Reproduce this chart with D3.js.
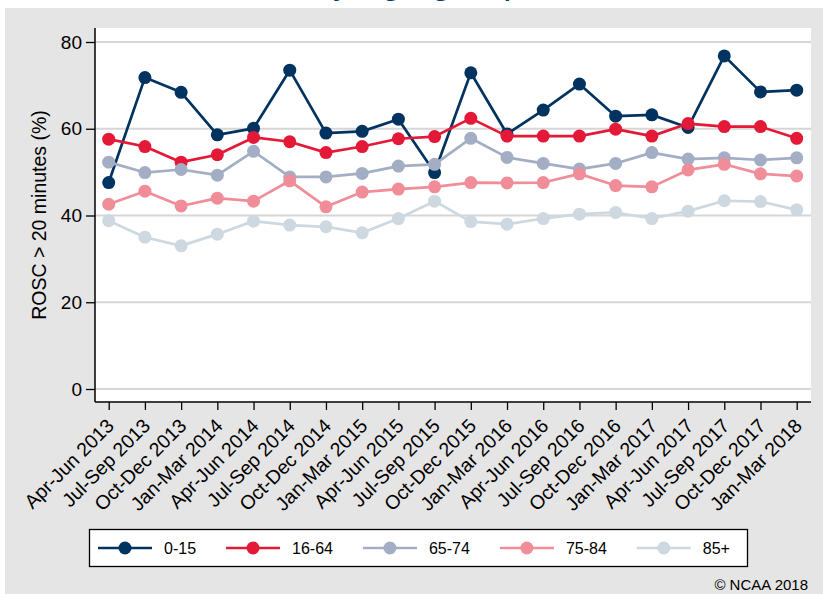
<!DOCTYPE html>
<html lang="en">
<head>
<meta charset="UTF-8">
<title>ROSC by age group</title>
<style>
body{margin:0;background:#fff;}
svg{display:block;font-family:"Liberation Sans",Arial,sans-serif;}
</style>
</head>
<body>
<script src="https://d3js.org/d3.v7.min.js"></script>
<script>
// quarters on the x axis
var categories = ["Apr-Jun 2013","Jul-Sep 2013","Oct-Dec 2013","Jan-Mar 2014","Apr-Jun 2014","Jul-Sep 2014",
	"Oct-Dec 2014","Jan-Mar 2015","Apr-Jun 2015","Jul-Sep 2015","Oct-Dec 2015","Jan-Mar 2016","Apr-Jun 2016",
	"Jul-Sep 2016","Oct-Dec 2016","Jan-Mar 2017","Apr-Jun 2017","Jul-Sep 2017","Oct-Dec 2017","Jan-Mar 2018"];
var ageGroups = ["0-15","16-64","65-74","75-84","85+"];
// ROSC > 20 minutes (%)
var age0_15  = [47.6,71.8,68.4,58.6,60.1,73.5,59.0,59.4,62.2,49.9,72.9,58.8,64.3,70.3,62.9,63.2,60.3,76.8,68.5,68.9];
var age16_64 = [57.6,55.9,52.3,54.0,58.0,57.0,54.5,55.9,57.7,58.2,62.4,58.3,58.3,58.3,59.9,58.3,61.2,60.5,60.5,57.8];
var age65_74 = [52.3,49.9,50.6,49.3,54.8,48.9,48.9,49.7,51.4,51.8,57.8,53.4,52.0,50.7,52.0,54.5,53.0,53.3,52.8,53.3];
var age75_84 = [42.6,45.6,42.2,44.0,43.3,48.0,42.0,45.4,46.1,46.6,47.6,47.5,47.6,49.6,46.9,46.6,50.5,51.8,49.6,49.1];
var age85up  = [38.8,35.0,33.0,35.7,38.7,37.8,37.4,36.0,39.3,43.3,38.6,38.0,39.3,40.3,40.7,39.3,41.0,43.4,43.2,41.3];
var yTicks = [0,20,40,60,80];
var groupColors = ["#00335f","#e31937","#a3aec4","#f08d99","#cdd8e0"];

var width = 823, height = 594;
var plot = {left: 95, right: 811, top: 28, bottom: 402};

var svg = d3.select("body").append("svg").attr("width", width).attr("height", height);

// background
svg.append("rect").attr("x",0).attr("y",0).attr("width",width).attr("height",height).attr("fill","#fff");
svg.append("rect").attr("x",5).attr("y",8).attr("width",width-5).attr("height",height-8).attr("fill","#e5e5e5");
// title, mostly above the top edge of the picture
svg.append("text").attr("x",313).attr("y",-7).attr("font-size",36).attr("fill","#003a70").text("by age group");

svg.append("rect").attr("x",plot.left).attr("y",plot.top)
	.attr("width",plot.right-plot.left).attr("height",plot.bottom-plot.top).attr("fill","#fff");

var x = d3.scalePoint().domain(categories).range([108.7, 796.7]);
var y = d3.scaleLinear().domain([0,80]).range([389, 42]);

// gridlines
svg.append("g").selectAll("line").data(yTicks).join("line")
	.attr("x1",plot.left).attr("x2",plot.right)
	.attr("y1",d=>y(d)).attr("y2",d=>y(d))
	.attr("stroke","#d6d6d6").attr("stroke-width",2);

// y axis
var yAxis = svg.append("g").attr("transform","translate("+plot.left+",0)")
	.call(d3.axisLeft(y).tickValues(yTicks).tickSize(9).tickPadding(4));
yAxis.select(".domain").attr("d","M0,"+plot.top+"V"+plot.bottom).attr("stroke","#000").attr("stroke-width",1.5);
yAxis.selectAll(".tick line").attr("stroke","#000").attr("stroke-width",1.3);
yAxis.selectAll(".tick text").attr("font-size",19).attr("font-family","Liberation Sans,Arial,sans-serif").attr("fill","#000");

svg.append("text").attr("transform","translate(46,215) rotate(-90)")
	.attr("text-anchor","middle").attr("font-size",19.5).text("ROSC > 20 minutes (%)");

// x axis
var xAxis = svg.append("g").attr("transform","translate(0,"+plot.bottom+")")
	.call(d3.axisBottom(x).tickSize(8).tickSizeOuter(0));
xAxis.select(".domain").attr("d","M"+plot.left+",0H"+plot.right).attr("stroke","#000").attr("stroke-width",1.5);
xAxis.selectAll(".tick line").attr("stroke","#000").attr("stroke-width",1.3);
xAxis.selectAll(".tick text").attr("font-size",19.5).attr("font-family","Liberation Sans,Arial,sans-serif").attr("fill","#000")
	.attr("text-anchor","end").attr("dy",null).attr("y",null)
	.attr("transform","translate(6,25) rotate(-45)");

// series
var seriesValues = [age0_15, age16_64, age65_74, age75_84, age85up];
var series = ageGroups.map(function(g,i){ return {name:g, values:seriesValues[i], color:groupColors[i]}; });
var line = d3.line().x((d,i)=>x(categories[i])).y(d=>y(d));

series.forEach(function(s){
	var g = svg.append("g");
	g.append("path").attr("d",line(s.values)).attr("fill","none")
		.attr("stroke",s.color).attr("stroke-width",2.7).attr("stroke-linejoin","round");
	g.selectAll("circle").data(s.values).join("circle")
		.attr("cx",(d,i)=>x(categories[i])).attr("cy",d=>y(d)).attr("r",6.5).attr("fill",s.color);
});

// legend
var legend = svg.append("g");
legend.append("rect").attr("x",89.5).attr("y",529.5).attr("width",658).attr("height",37)
	.attr("fill","#fff").attr("stroke","#000").attr("stroke-width",1.3);
var lx = 98;
series.forEach(function(s){
	var it = legend.append("g");
	it.append("line").attr("x1",lx).attr("x2",lx+54).attr("y1",548).attr("y2",548)
		.attr("stroke",s.color).attr("stroke-width",2.7);
	it.append("circle").attr("cx",lx+27).attr("cy",548).attr("r",6.5).attr("fill",s.color);
	var t = it.append("text").attr("x",lx+66).attr("y",548).attr("dy","0.36em")
		.attr("font-size",16).text(s.name);
	lx = lx + 66 + t.node().getComputedTextLength() + 30;
});

svg.append("text").attr("x",808).attr("y",590).attr("text-anchor","end")
	.attr("font-size",15).text("\u00a9 NCAA 2018");
</script>
</body>
</html>
